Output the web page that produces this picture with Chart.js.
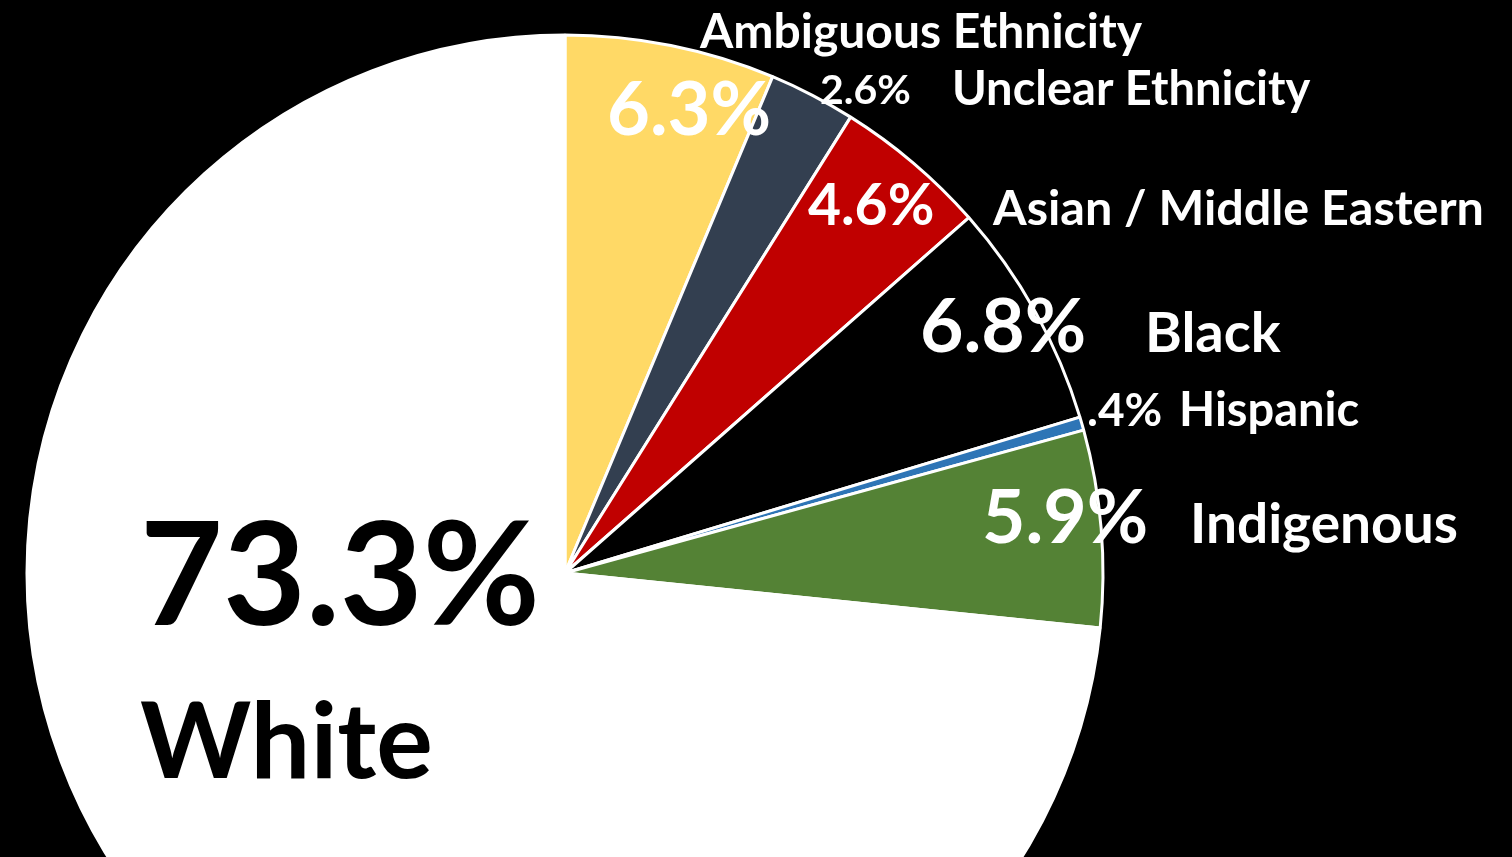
<!DOCTYPE html>
<html>
<head>
<meta charset="utf-8">
<script src="https://cdn.jsdelivr.net/npm/chart.js@4"></script>
<style>
  html, body { margin: 0; padding: 0; background: #000; overflow: hidden; }
  #wrap { width: 1512px; height: 857px; overflow: hidden; }
  canvas { display: block; }
</style>
</head>
<body>
<div id="wrap"><canvas id="myChart" width="1512" height="1146"></canvas></div>
<script>
// Slice data, clockwise from 12 o'clock
var categories = ["Ambiguous Ethnicity", "Unclear Ethnicity", "Asian / Middle Eastern", "Black", "Hispanic", "Indigenous", "White"];
var shares = [6.3, 2.6, 4.6, 6.8, 0.4, 5.9, 73.3];
var sliceColors = ["#FFD966", "#333F50", "#C00000", "#000000", "#2E75B6", "#548235", "#FFFFFF"];

// where each label goes, as offsets from the pie centre (dx, dy = text baseline)
var labelLayout = [
  { pct: { dx: 42, dy: -438, size: 74, color: "#fff" }, name: { dx: 135, dy: -525, size: 48, color: "#fff" } },
  { pct: { dx: 255, dy: -469, size: 41, color: "#fff" }, name: { dx: 387, dy: -468, size: 47, color: "#fff" } },
  { pct: { dx: 243, dy: -348, size: 57, color: "#fff" }, name: { dx: 428, dy: -348, size: 48.5, color: "#fff" } },
  { pct: { dx: 355, dy: -221, size: 75, color: "#fff" }, name: { dx: 580, dy: -221, size: 56, color: "#fff" } },
  { pct: { dx: 522, dy: -147, size: 46, color: "#fff" }, name: { dx: 614, dy: -147, size: 47, color: "#fff" } },
  { pct: { dx: 417, dy: -30, size: 75, color: "#fff" }, name: { dx: 625, dy: -30, size: 55, color: "#fff" } },
  { pct: { dx: -425, dy: 52, size: 143, color: "#000" }, name: { dx: -425, dy: 205, size: 106, color: "#000" } }
];

function pctText(v) {
  return v.toFixed(1).replace(/^0/, "") + "%";
}

// draws the percentage and category text next to each slice
var sliceLabels = {
  id: "sliceLabels",
  afterDatasetsDraw: function (chart) {
    var ctx = chart.ctx;
    var arc = chart.getDatasetMeta(0).data[0];
    var cx = arc.x, cy = arc.y;
    ctx.save();
    ctx.textAlign = "left";
    ctx.textBaseline = "alphabetic";
    shares.forEach(function (v, i) {
      var lay = labelLayout[i];
      ctx.font = "bold " + lay.pct.size + "px Lato";
      ctx.fillStyle = lay.pct.color;
      ctx.fillText(pctText(v), cx + lay.pct.dx, cy + lay.pct.dy);
      ctx.font = "bold " + lay.name.size + "px Lato";
      ctx.fillStyle = lay.name.color;
      ctx.fillText(categories[i], cx + lay.name.dx, cy + lay.name.dy);
    });
    ctx.restore();
  }
};

var ctx = document.getElementById("myChart").getContext("2d");

var myChart = new Chart(ctx, {
  type: "pie",
  data: {
    labels: categories,
    datasets: [
      {
        data: shares,
        backgroundColor: sliceColors,
        borderColor: "#FFFFFF",
        borderWidth: 3
      }
    ]
  },
  options: {
    responsive: false,
    animation: false,
    radius: 538,
    layout: { padding: { left: 27, right: 409, top: 35, bottom: 35 } },
    plugins: {
      legend: { display: false },
      tooltip: { enabled: false }
    }
  },
  plugins: [sliceLabels]
});
</script>
</body>
</html>
